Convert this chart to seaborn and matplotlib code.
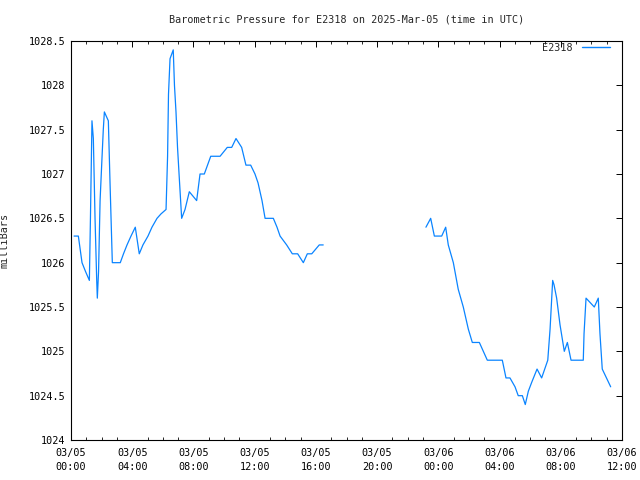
import numpy as np
import pandas as pd
import matplotlib
matplotlib.use("Agg")
import matplotlib.pyplot as plt
import seaborn as sns
from matplotlib.lines import Line2D

# ---- data (hours since 2025-03-05 00:00 UTC, pressure in mbar) ----
hours_a = [0.20, 0.48, 0.72, 0.95, 1.20, 1.27, 1.37, 1.46, 1.57, 1.68, 1.72, 1.80,
           1.90, 2.03, 2.11, 2.18, 2.44, 2.55, 2.70, 3.22, 3.43, 3.66, 3.92, 4.20,
           4.46, 4.70, 5.03, 5.29, 5.62, 5.88, 6.21, 6.31, 6.37, 6.47, 6.68, 6.76,
           6.86, 6.96, 7.06, 7.23, 7.45, 7.73, 8.21, 8.43, 8.71, 9.13, 9.74, 10.21,
           10.50, 10.78, 11.15, 11.43, 11.74, 12.02, 12.22, 12.48, 12.68, 13.22,
           13.46, 13.66, 14.09, 14.46, 14.81, 15.18, 15.44, 15.73, 16.22, 16.48]
press_a = [1026.3, 1026.3, 1026.0, 1025.9, 1025.8, 1026.5, 1027.6, 1027.4, 1026.5,
           1025.8, 1025.6, 1025.9, 1026.7, 1027.2, 1027.5, 1027.7, 1027.6, 1026.9,
           1026.0, 1026.0, 1026.1, 1026.2, 1026.3, 1026.4, 1026.1, 1026.2, 1026.3,
           1026.4, 1026.5, 1026.55, 1026.6, 1027.2, 1027.9, 1028.3, 1028.4, 1028.0,
           1027.7, 1027.3, 1027.0, 1026.5, 1026.6, 1026.8, 1026.7, 1027.0, 1027.0,
           1027.2, 1027.2, 1027.3, 1027.3, 1027.4, 1027.3, 1027.1, 1027.1, 1027.0,
           1026.9, 1026.7, 1026.5, 1026.5, 1026.4, 1026.3, 1026.2, 1026.1, 1026.1,
           1026.0, 1026.1, 1026.1, 1026.2, 1026.2]

hours_b = [23.19, 23.50, 23.74, 24.22, 24.48, 24.65, 24.98, 25.30, 25.63, 25.96,
           26.22, 26.68, 26.94, 27.20, 28.18, 28.42, 28.68, 29.01, 29.22, 29.49,
           29.68, 29.88, 30.10, 30.45, 30.75, 31.15, 31.30, 31.47, 31.56, 31.73,
           31.95, 32.23, 32.43, 32.67, 33.47, 33.52, 33.65, 34.19, 34.45, 34.56,
           34.71, 35.26]
press_b = [1026.4, 1026.5, 1026.3, 1026.3, 1026.4, 1026.2, 1026.0, 1025.7, 1025.5,
           1025.25, 1025.1, 1025.1, 1025.0, 1024.9, 1024.9, 1024.7, 1024.7, 1024.6,
           1024.5, 1024.5, 1024.4, 1024.55, 1024.65, 1024.8, 1024.7, 1024.9, 1025.25,
           1025.8, 1025.75, 1025.6, 1025.3, 1025.0, 1025.1, 1024.9, 1024.9, 1025.2,
           1025.6, 1025.5, 1025.6, 1025.2, 1024.8, 1024.6]

station = "E2318"
title = "Barometric Pressure for E2318 on 2025-Mar-05 (time in UTC)"
ylabel = "milliBars"
x_ticks = [0, 4, 8, 12, 16, 20, 24, 28, 32, 36]
x_labels = ["03/05\n00:00", "03/05\n04:00", "03/05\n08:00", "03/05\n12:00",
            "03/05\n16:00", "03/05\n20:00", "03/06\n00:00", "03/06\n04:00",
            "03/06\n08:00", "03/06\n12:00"]
y_ticks = [1024, 1024.5, 1025, 1025.5, 1026, 1026.5, 1027, 1027.5, 1028, 1028.5]
y_labels = ["1024", "1024.5", "1025", "1025.5", "1026", "1026.5", "1027",
            "1027.5", "1028", "1028.5"]

df = pd.DataFrame({
    "hours": hours_a + hours_b,
    "mbar": press_a + press_b,
    "seg": [0] * len(hours_a) + [1] * len(hours_b),
})

sns.set_style("white")
plt.rcParams["font.family"] = ["DejaVu Sans Mono"]
FS = 7.3
LINE_COLOR = "#0a84ff"

fig = plt.figure(figsize=(6.4, 4.8), dpi=100)
ax = fig.add_axes([71 / 640, 1 - 440 / 480, 551 / 640, 399 / 480])

sns.lineplot(data=df, x="hours", y="mbar", units="seg", estimator=None,
             color=LINE_COLOR, linewidth=0.9, ax=ax, legend=False)

ax.set_xlim(0, 36)
ax.set_ylim(1024, 1028.5)
ax.set_xticks(x_ticks)
ax.set_xticklabels(x_labels, fontsize=FS, linespacing=1.45)
ax.set_xticks(np.arange(0, 37, 1), minor=True)
ax.set_yticks(y_ticks)
ax.set_yticklabels(y_labels, fontsize=FS)

ax.tick_params(axis="both", which="major", direction="in", length=4.5, width=0.7,
               top=True, right=True, color="black", labelcolor="black")
ax.tick_params(axis="x", which="major", pad=6)
ax.tick_params(axis="y", which="major", pad=4)
ax.tick_params(axis="x", which="minor", direction="in", length=2.2, width=0.7,
               top=True, bottom=True)

for s in ax.spines.values():
    s.set_visible(True)
    s.set_color("black")
    s.set_linewidth(0.8)

ax.set_xlabel("")
ax.set_ylabel(ylabel, fontsize=FS)
ax.yaxis.set_label_coords(-0.111, 0.5)

fig.text((71 + 622) / 2 / 640, 1 - 19 / 480, title, ha="center", va="center",
         fontsize=FS)

handle = Line2D([], [], color=LINE_COLOR, linewidth=1.0)
ax.legend([handle], [station], loc="upper right", frameon=False,
          markerfirst=False, fontsize=FS, handlelength=2.75, handletextpad=0.9,
          borderpad=0, borderaxespad=0,
          bbox_to_anchor=((610 - 71) / 551, (440 - 43) / 399))

fig.savefig("out.png", dpi=100, facecolor="white")
